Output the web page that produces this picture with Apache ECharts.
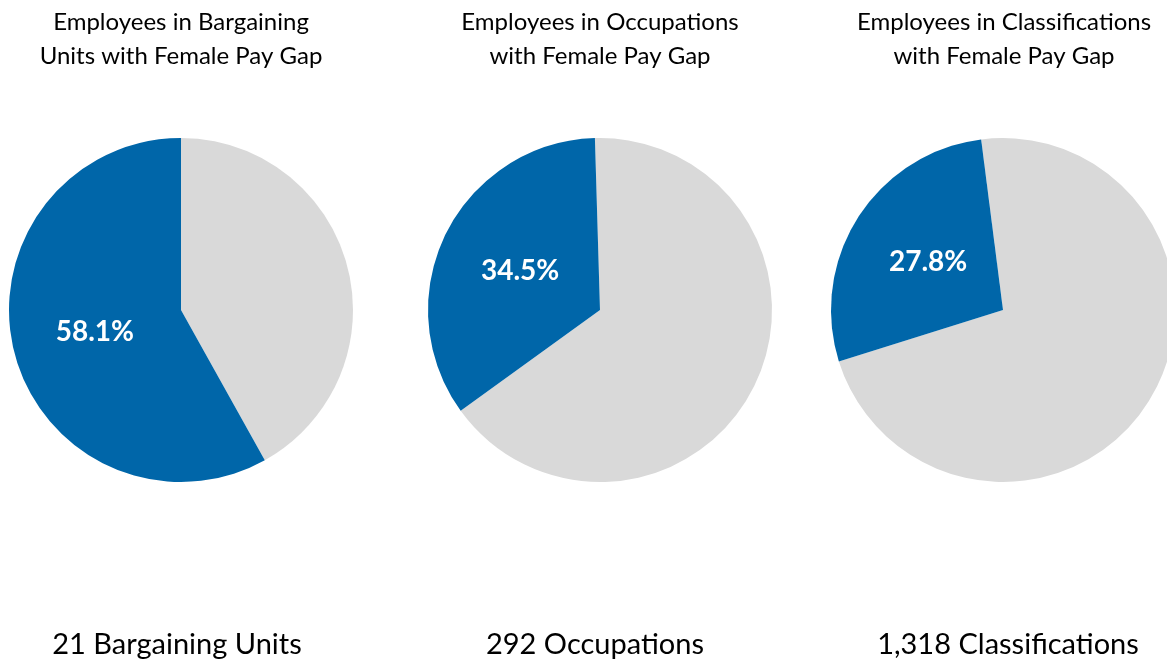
<!DOCTYPE html>
<html>
<head>
<meta charset="utf-8">
<script src="https://cdn.jsdelivr.net/npm/echarts@6/dist/echarts.min.js"></script>
<style>
	html, body { margin: 0; padding: 0; background: #fff; }
	#chart { width: 1167px; height: 660px; }
</style>
</head>
<body>
<div id="chart"></div>
<script>
	// chart titles (two lines each)
	var pieTitles = [
		'Employees in Bargaining\nUnits with Female Pay Gap',
		'Employees in Occupations\nwith Female Pay Gap',
		'Employees in Classifications\nwith Female Pay Gap'
	];
	// share of employees with a female pay gap (%)
	var gapShare = [58.1, 34.5, 27.8];
	// remaining share (%)
	var otherShare = [41.9, 65.5, 72.2];
	// count labels under each pie
	var countLabels = ['21 Bargaining Units', '292 Occupations', '1,318 Classifications'];

	var centersX = [181, 600, 1003];
	var titleX = [181, 600, 1004];
	var countX = [177, 595, 1008];
	var startAngles = [90, 91.7, 97.3];

	var chart = echarts.init(document.getElementById('chart'));

	var titles = [];
	var series = [];
	for (var i = 0; i < 3; i++) {
		titles.push({
			text: pieTitles[i],
			left: titleX[i],
			top: 5,
			textAlign: 'center',
			padding: 0,
			textStyle: {
				fontFamily: 'Lato',
				fontWeight: 'normal',
				fontSize: 24,
				lineHeight: 34,
				color: '#000'
			}
		});
		titles.push({
			text: countLabels[i],
			left: countX[i],
			top: 629,
			textAlign: 'center',
			padding: 0,
			textStyle: {
				fontFamily: 'Lato',
				fontWeight: 'normal',
				fontSize: 29,
				lineHeight: 32,
				color: '#000'
			}
		});
		series.push({
			type: 'pie',
			center: [centersX[i], 310],
			radius: [0, 172],
			startAngle: startAngles[i],
			clockwise: true,
			silent: true,
			animation: false,
			labelLine: { show: false },
			data: [
				{
					value: otherShare[i],
					itemStyle: { color: '#D9D9D9' },
					label: { show: false }
				},
				{
					value: gapShare[i],
					itemStyle: { color: '#0066A9' },
					label: {
						show: true,
						position: 'inside',
						formatter: gapShare[i].toFixed(1) + '%',
						color: '#fff',
						fontFamily: 'Lato',
						fontWeight: 'bold',
						fontSize: 28
					}
				}
			]
		});
	}

	chart.setOption({
		backgroundColor: '#fff',
		title: titles,
		series: series
	});
</script>
</body>
</html>
